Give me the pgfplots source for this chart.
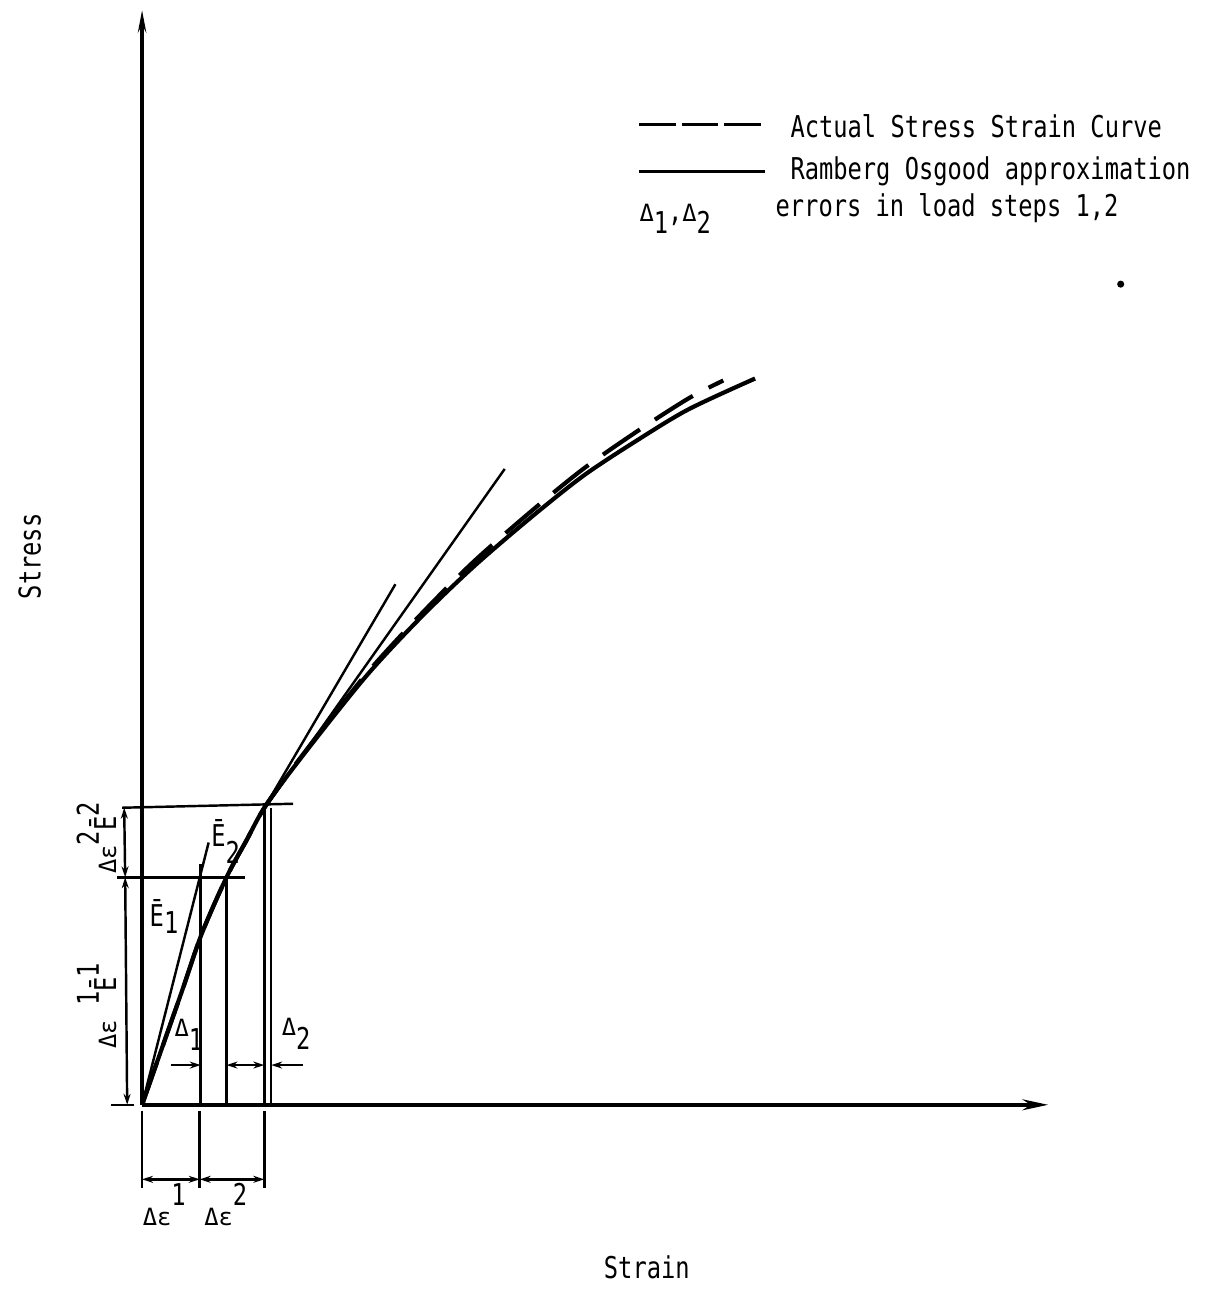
\documentclass[border=0pt]{standalone}
\usepackage{fontspec}
\setmainfont{DejaVu Sans Mono}[FakeStretch=0.79]
\newfontfamily\gk{DejaVu Sans Mono}
\usepackage{pgfplots}
\pgfplotsset{compat=1.18}
\usetikzlibrary{arrows.meta}
\newcommand{\G}[1]{{\gk\fontsize{6.8}{7}\selectfont #1}}
\newcommand{\up}[2][5pt]{\raisebox{#1}{#2}}
\newcommand{\dn}[2][4pt]{\raisebox{-#1}{#2}}
\tikzset{
  da/.style={line width=0.7pt,-{Stealth[length=0.11cm,width=0.07cm]}},
  dd/.style={line width=0.7pt,{Stealth[length=0.11cm,width=0.07cm]}-{Stealth[length=0.11cm,width=0.07cm]}},
  thin line/.style={line width=0.7pt},
}
\begin{document}
\begin{tikzpicture}[font=\fontsize{8.6}{10}\selectfont]
\begin{axis}[
  scale only axis, width=9.12cm, height=11.02cm,
  xmin=0, xmax=912, ymin=0, ymax=1102,
  axis lines=left,
  x axis line style={line width=1pt,-{Stealth[length=0.26cm,width=0.11cm]}},
  y axis line style={line width=1pt,-{Stealth[length=0.22cm,width=0.08cm]}},
  xtick=\empty, ytick=\empty,
  clip=false,
]
% bounding box of whole picture
\path (axis cs:-143,-179) rectangle (axis cs:1097,1112);

% Ramberg Osgood approximation (solid)
\addplot[line width=1.2pt, smooth, tension=0.5] coordinates {
(0,0)(20,57)(40,114)(60,172)(85,229)(105,266)(125,302)(166,357)(226,432)(280,490)(333,541)(390,590)(444,633)(497,668)(550,700)(617,731)};
% Actual stress strain curve (dashed)
\addplot[line width=1.2pt, smooth, tension=0.5, dash pattern=on 0.45cm off 0.18cm] coordinates {
(0,0)(20,57)(40,114)(60,172)(85,229)(105,266)(125,302)(166,358)(226,434)(280,493)(333,546)(390,596)(444,640)(497,677)(550,711)(585,729)};

% secant / tangent lines
\addplot[thin line] coordinates {(0,0)(67,264)};
\addplot[thin line] coordinates {(119,292)(255,524)};
\addplot[thin line] coordinates {(119,292)(365,640)};

% horizontal lines
\addplot[thin line] coordinates {(-20,299)(152,303)};
\addplot[thin line] coordinates {(-25,229)(104,229)};
\addplot[thin line] coordinates {(-31,0)(-8,0)};

% vertical lines
\addplot[thin line] coordinates {(59,0)(59,242)};
\addplot[thin line] coordinates {(85,0)(85,229)};
\addplot[thin line] coordinates {(123,0)(123,304)};
\addplot[thin line] coordinates {(130,0)(130,299)};

% bottom extension lines
\addplot[thin line] coordinates {(0,-6)(0,-84)};
\addplot[thin line] coordinates {(58,-6)(58,-84)};
\addplot[thin line] coordinates {(123,-6)(123,-84)};

% bottom dimensions
\addplot[dd] coordinates {(0,-75)(58,-75)};
\addplot[dd] coordinates {(58,-75)(123,-75)};

% left dimensions
\addplot[dd] coordinates {(-18,299)(-17,229)};
\addplot[dd] coordinates {(-17,229)(-15,0)};

% error arrows
\addplot[da] coordinates {(29,40)(59,40)};
\addplot[da] coordinates {(104,40)(85,40)};
\addplot[da] coordinates {(104,40)(123,40)};
\addplot[da] coordinates {(162,40)(130,40)};

% legend samples
\addplot[line width=0.8pt, dash pattern=on 0.37cm off 0.06cm] coordinates {(500,987)(627,987)};
\addplot[line width=0.8pt] coordinates {(500,939)(627,939)};
\addplot[only marks, mark=*, mark size=0.8pt] coordinates {(985,826)};

% legend texts
\node[anchor=base west, inner sep=0] at (axis cs:652,974) {Actual Stress Strain Curve};
\node[anchor=base west, inner sep=0] at (axis cs:652,931) {Ramberg Osgood approximation};
\node[anchor=base west, inner sep=0] at (axis cs:637,894) {errors in load steps 1,2};
\node[anchor=base west, inner sep=0] at (axis cs:500,889) {\G{Δ}\dn[3.5pt]{1},\G{Δ}\dn[3.5pt]{2}};

% annotation labels
\node[anchor=base west, inner sep=0] at (axis cs:7,179) {Ē\dn[2pt]{1}};
\node[anchor=base west, inner sep=0] at (axis cs:69,260) {Ē\dn[5pt]{2}};
\node[anchor=base west, inner sep=0] at (axis cs:32,69) {\G{Δ}\dn[4pt]{1}};
\node[anchor=base west, inner sep=0] at (axis cs:140,70) {\G{Δ}\dn[4pt]{2}};
\node[anchor=base west, inner sep=0] at (axis cs:0,-121) {\G{Δε}\up[5.5pt]{1}};
\node[anchor=base west, inner sep=0] at (axis cs:62,-121) {\G{Δε}\up[5.5pt]{2}};
\node[rotate=90, anchor=base west, inner sep=0] at (axis cs:-26,232) {\G{Δε}\up{2}Ē\up{2}};
\node[rotate=90, anchor=base west, inner sep=0] at (axis cs:-26,56) {\G{Δε}\hspace{4pt}\up{1}Ē\up{1}};

% axis titles
\node[rotate=90] at (axis cs:-113,552) {Stress};
\node at (axis cs:508,-164) {Strain};
\end{axis}
\end{tikzpicture}
\end{document}
